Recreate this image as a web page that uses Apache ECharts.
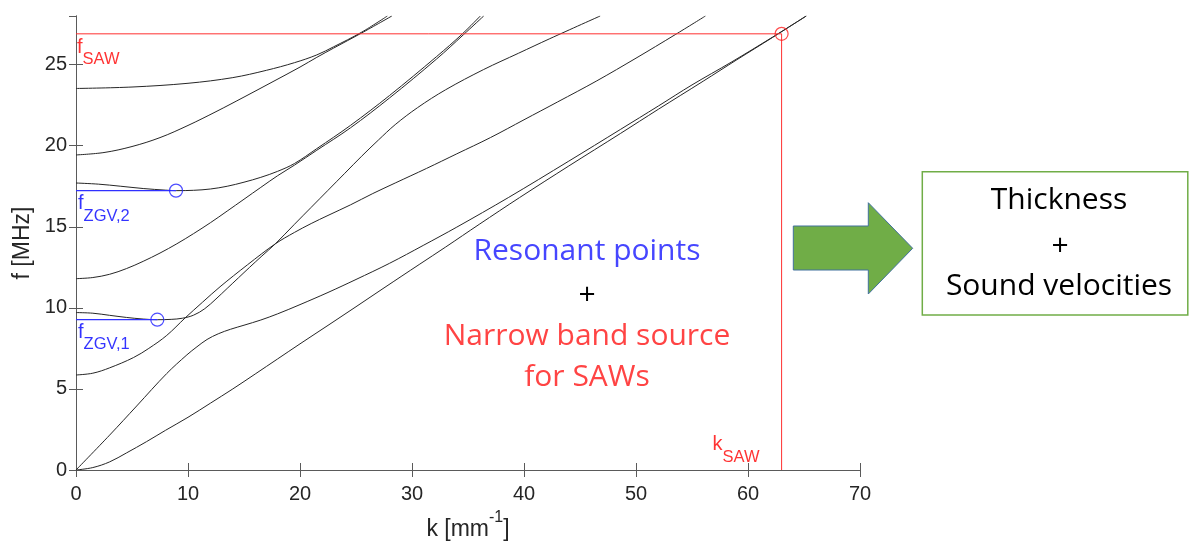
<!DOCTYPE html>
<html><head><meta charset="utf-8">
<script src="https://cdn.jsdelivr.net/npm/echarts@6/dist/echarts.min.js"></script>
<style>html,body{margin:0;padding:0;background:#fff}#c{width:1190px;height:546px}</style>
</head><body><div id="c"></div>
<script>
// ---- axis ranges / ticks ----
const kRange = [0, 70], kInterval = 10;
const fRange = [0, 28], fInterval = 5;

// ---- dispersion curves [k (1/mm), f (MHz)] ----
const modeA0 = [[0,0],[1.5,0.15],[3,0.5],[4.5,1.05],[6.3,1.75],[8,2.45],[10,3.25],[12,4.12],[14,5.0],[16,5.92],[18,6.85],[20,7.78],[22.5,8.92],[25,10.07],[27.5,11.23],[30.7,12.7],[33,13.75],[36,15.15],[39.6,16.8],[44,18.75],[48.6,20.75],[52,22.25],[56,23.98],[59,25.3],[62.2,26.68],[65.2,28]];
const modeS0 = [[0,0],[3,2.15],[5.42,3.95],[8.1,5.95],[9.9,7.1],[10.8,7.6],[11.7,8.05],[12.7,8.4],[13.8,8.68],[15,8.93],[16.5,9.25],[18,9.63],[20,10.2],[22.5,10.95],[25,11.75],[28,12.75],[31,13.85],[34,14.98],[38.6,16.8],[44,19.05],[48.6,21.0],[52,22.45],[55,23.75],[58.5,25.15],[62.2,26.7],[65.2,28]];
const modeA1 = [[0,5.86],[1.5,5.97],[3,6.3],[5.12,6.93],[6.5,7.5],[8.1,8.3],[9.73,9.37],[11.3,10.35],[12.86,11.3],[15.3,12.65],[17.8,13.95],[19.5,14.65],[21,15.2],[22.5,15.7],[24.5,16.35],[26.5,17.05],[28.5,17.7],[31.3,18.6],[34,19.5],[37,20.5],[40,21.6],[43,22.7],[46.5,24.0],[50,25.4],[53.5,26.85],[56.2,28]];
const modeS1 = [[0,9.71],[1.5,9.67],[3,9.54],[4.5,9.41],[6,9.31],[7.26,9.27],[8.5,9.29],[9.5,9.36],[10.5,9.55],[11.5,9.95],[12.5,10.55],[13.5,11.2],[14.5,11.85],[15.5,12.5],[16.6,13.2],[17.8,13.95],[19.5,15.15],[21,16.2],[22.5,17.25],[24,18.3],[25.5,19.35],[27,20.35],[28.5,21.3],[30.5,22.35],[33,23.45],[36.4,24.7],[39.5,25.7],[42.3,26.6],[46.8,28]];
const modeS2 = [[0,11.8],[1.5,11.87],[3,12.07],[4.5,12.42],[6,12.87],[7.5,13.38],[9,13.95],[10.5,14.58],[12,15.25],[13.5,15.97],[15,16.7],[16.5,17.43],[18,18.15],[19.5,18.8],[21.5,19.72],[24.5,21.1],[28,22.95],[32.2,25.35],[34.6,26.85],[36.4,28]];
const modeA2 = [[0,17.7],[2,17.63],[4,17.5],[6,17.36],[8,17.26],[9,17.23],[10.5,17.25],[12,17.33],[13.5,17.5],[15,17.75],[16.5,18.05],[18,18.42],[19.5,18.9],[21.5,19.82],[24.5,21.25],[28,23.1],[32.2,25.5],[34.5,26.9],[36.1,28]];
const modeS3 = [[0,19.43],[2.5,19.58],[5,19.95],[7.5,20.5],[10,21.25],[12.5,22.1],[15,23.0],[17.5,23.92],[20,24.85],[21.5,25.45],[23,26.02],[25.5,26.95],[28.2,28]];
const modeA3 = [[0,23.53],[5,23.62],[10,23.85],[14,24.2],[17,24.65],[19.5,25.12],[21.5,25.6],[23,26.1],[25.5,27.0],[27.8,28]];
const modes = [modeA0, modeS0, modeA1, modeS1, modeS2, modeA2, modeS3, modeA3];

// ---- marked points ----
const kSAW = 63, fSAW = 26.9;
const zgv1 = [7.26, 9.27];
const zgv2 = [8.93, 17.23];

// ---- in-plot labels: [k, f] anchor (top-left), main, subscript, colour ----
const plotLabels = [
  [0.09, 26.68, 'f', 'SAW', '#ff0000'],
  [0.18, 17.05, 'f', 'ZGV,2', '#0000ff'],
  [0.18, 9.12, 'f', 'ZGV,1', '#0000ff'],
  [56.83, 2.17, 'k', 'SAW', '#ff0000']
];

const AX = '#5a5a5a';
const FONT = 'Liberation Sans, Arial, sans-serif';
const TXT = '"Open Sans", sans-serif';

const series = [];
modes.forEach(function (m) {
  series.push({
    type: 'line', data: m, showSymbol: false, smooth: 0.35, silent: true,
    lineStyle: { color: '#262626', width: 1 }, z: 3
  });
});
series.push({
  type: 'line', data: [[0, fSAW], [kSAW, fSAW], [kSAW, 0]], showSymbol: false,
  lineStyle: { color: '#ff3030', width: 1 }, z: 4
});
series.push({
  type: 'line', data: [[0, zgv2[1]], zgv2], showSymbol: false,
  lineStyle: { color: '#3030ff', width: 1.3 }, z: 4
});
series.push({
  type: 'line', data: [[0, zgv1[1]], zgv1], showSymbol: false,
  lineStyle: { color: '#3030ff', width: 1.3 }, z: 4
});
series.push({
  type: 'scatter', data: [[kSAW, fSAW]], symbol: 'circle', symbolSize: 13,
  itemStyle: { color: 'rgba(0,0,0,0)', borderColor: '#ff2020', borderWidth: 1.2 }, z: 5
});
series.push({
  type: 'scatter', data: [zgv2, zgv1], symbol: 'circle', symbolSize: 13,
  itemStyle: { color: 'rgba(0,0,0,0)', borderColor: '#2020ff', borderWidth: 1.2 }, z: 5
});
series.push({
  type: 'scatter', symbolSize: 1, silent: true, z: 6,
  itemStyle: { color: 'rgba(0,0,0,0)' },
  data: plotLabels.map(function (p) {
    return {
      value: [p[0], p[1]],
      label: {
        show: true, position: 'inside', align: 'left', verticalAlign: 'top',
        formatter: '{m|' + p[2] + '}{s|' + p[3] + '}',
        rich: {
          m: { fontFamily: FONT, fontSize: 20, lineHeight: 20, verticalAlign: 'top', color: p[4] },
          s: { fontFamily: FONT, fontSize: 16.5, lineHeight: 17, padding: [14, 0, 0, 0], verticalAlign: 'top', color: p[4] }
        }
      }
    };
  })
});

const option = {
  animation: false,
  backgroundColor: '#fff',
  grid: { left: 76, top: 16, width: 784, height: 459 },
  xAxis: [{
    type: 'value', min: kRange[0], max: kRange[1], interval: kInterval, position: 'bottom',
    axisLine: { show: true, lineStyle: { color: AX, width: 1 } },
    axisTick: { show: true, inside: true, length: 7, lineStyle: { color: AX } },
    splitLine: { show: false },
    axisLabel: { color: '#262626', fontFamily: FONT, fontSize: 20, margin: 14 },
    name: '{a|k [mm}{sup|-1}{a|]}', nameLocation: 'middle', nameGap: 40,
    nameTextStyle: {
      rich: {
        a: { fontFamily: FONT, fontSize: 23, lineHeight: 23, padding: [8, 0, 0, 0], verticalAlign: 'top', color: '#262626' },
        sup: { fontFamily: FONT, fontSize: 16, lineHeight: 16, verticalAlign: 'top', color: '#262626' }
      }
    }
  }, {
    type: 'value', min: kRange[0], max: kRange[1], interval: kInterval, position: 'top',
    axisLine: { show: true, lineStyle: { color: AX, width: 1 } },
    axisTick: { show: true, inside: true, length: 7, lineStyle: { color: AX } },
    splitLine: { show: false }, axisLabel: { show: false }
  }],
  yAxis: [{
    type: 'value', min: fRange[0], max: fRange[1], interval: fInterval, position: 'left',
    axisLine: { show: true, lineStyle: { color: AX, width: 1 } },
    axisTick: { show: true, inside: true, length: 7, lineStyle: { color: AX } },
    splitLine: { show: false },
    axisLabel: { color: '#262626', fontFamily: FONT, fontSize: 20, margin: 9, showMaxLabel: false },
    name: 'f [MHz]', nameLocation: 'middle', nameGap: 37,
    nameTextStyle: { fontFamily: FONT, fontSize: 23, color: '#262626' }
  }, {
    type: 'value', min: fRange[0], max: fRange[1], interval: fInterval, position: 'right',
    axisLine: { show: true, lineStyle: { color: AX, width: 1 } },
    axisTick: { show: true, inside: true, length: 7, lineStyle: { color: AX } },
    splitLine: { show: false }, axisLabel: { show: false }
  }],
  series: series,
  graphic: [
    { type: 'text', z: 100, style: { x: 587, y: 251, text: 'Resonant points', fill: '#4646ff', font: '30px ' + TXT, align: 'center', verticalAlign: 'middle', textAlign: 'center', textVerticalAlign: 'middle' } },
    { type: 'text', z: 100, style: { x: 587, y: 295, text: '+', fill: '#000', font: '30px ' + TXT, align: 'center', verticalAlign: 'middle', textAlign: 'center', textVerticalAlign: 'middle' } },
    { type: 'text', z: 100, style: { x: 587, y: 336.5, text: 'Narrow band source', fill: '#ff4444', font: '30px ' + TXT, align: 'center', verticalAlign: 'middle', textAlign: 'center', textVerticalAlign: 'middle' } },
    { type: 'text', z: 100, style: { x: 587, y: 377.5, text: 'for SAWs', fill: '#ff4444', font: '30px ' + TXT, align: 'center', verticalAlign: 'middle', textAlign: 'center', textVerticalAlign: 'middle' } },
    { type: 'polygon', z: 100, shape: { points: [[793.3,226],[868.3,226],[868.3,202.7],[912.7,248.3],[868.3,294],[868.3,270],[793.3,270]] },
      style: { fill: '#70ad47', stroke: '#41719c', lineWidth: 1 } },
    { type: 'rect', z: 100, shape: { x: 922.3, y: 171.7, width: 265.5, height: 143.3 },
      style: { fill: '#fff', stroke: '#70ad47', lineWidth: 1.5 } },
    { type: 'text', z: 101, style: { x: 1059, y: 200.8, text: 'Thickness', fill: '#000', font: '30px ' + TXT, align: 'center', verticalAlign: 'middle', textAlign: 'center', textVerticalAlign: 'middle' } },
    { type: 'text', z: 101, style: { x: 1060, y: 246.7, text: '+', fill: '#000', font: '30px ' + TXT, align: 'center', verticalAlign: 'middle', textAlign: 'center', textVerticalAlign: 'middle' } },
    { type: 'text', z: 101, style: { x: 1059, y: 286.3, text: 'Sound velocities', fill: '#000', font: '30px ' + TXT, align: 'center', verticalAlign: 'middle', textAlign: 'center', textVerticalAlign: 'middle' } }
  ]
};
const chart = echarts.init(document.getElementById('c'), null, { renderer: 'canvas' });
chart.setOption(option);
</script></body></html>
